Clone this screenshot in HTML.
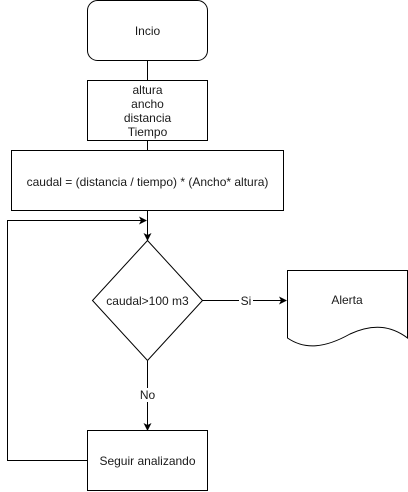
<!DOCTYPE html>
<html><head><style>body{margin:0;background:#fff}svg{display:block}text{font-family:"Liberation Sans",Arial,sans-serif;font-size:12px;fill:#1a1a1a}</style></head><body>
<svg width="408" height="492" viewBox="0 0 408 492" xmlns="http://www.w3.org/2000/svg">
<defs><marker id="a" markerWidth="8" markerHeight="8" refX="7" refY="4" orient="auto" markerUnits="userSpaceOnUse"><path d="M0,0 L8,4 L0,8 L2,4 Z" fill="#000"/></marker></defs>
<g fill="#fff" stroke="#000" stroke-width="1">
<rect x="87.5" y="0.5" width="120" height="60" rx="10"/>
<line x1="147.5" y1="61" x2="147.5" y2="80"/>
<rect x="87.5" y="80.5" width="120" height="60"/>
<line x1="147.5" y1="141" x2="147.5" y2="150"/>
<rect x="11.5" y="150.5" width="272" height="60"/>
<line x1="147.5" y1="211" x2="147.5" y2="240" marker-end="url(#a)"/>
<polyline points="87.5,460.5 7.5,460.5 7.5,220.5 146,220.5" fill="none" marker-end="url(#a)"/>
<polygon points="147.5,240.5 202.5,300.5 147.5,360.5 92.5,300.5"/>
<line x1="202.5" y1="300.5" x2="286" y2="300.5" marker-end="url(#a)"/>
<line x1="147.5" y1="361" x2="147.5" y2="430" marker-end="url(#a)"/>
<path d="M287.5,270.5 H407.5 V338 C390,325 372,324 350,334 C325,348 305,350 287.5,338 Z"/>
<rect x="87.5" y="430.5" width="120" height="60"/>
</g>
<rect x="239" y="293" width="14" height="14" fill="#fff"/>
<rect x="139" y="388" width="18" height="14" fill="#fff"/>
<g text-anchor="middle">
<text x="147.5" y="35">Incio</text>
<text x="147.5" y="94">altura</text>
<text x="147.5" y="108">ancho</text>
<text x="147.5" y="122">distancia</text>
<text x="147.5" y="136">Tiempo</text>
<text x="147.5" y="186">caudal = (distancia / tiempo) * (Ancho* altura)</text>
<text x="147.5" y="305">caudal&gt;100 m3</text>
<text x="246" y="305">Si</text>
<text x="147.5" y="399">No</text>
<text x="347" y="304">Alerta</text>
<text x="147.5" y="465">Seguir analizando</text>
</g>
</svg>
</body></html>
